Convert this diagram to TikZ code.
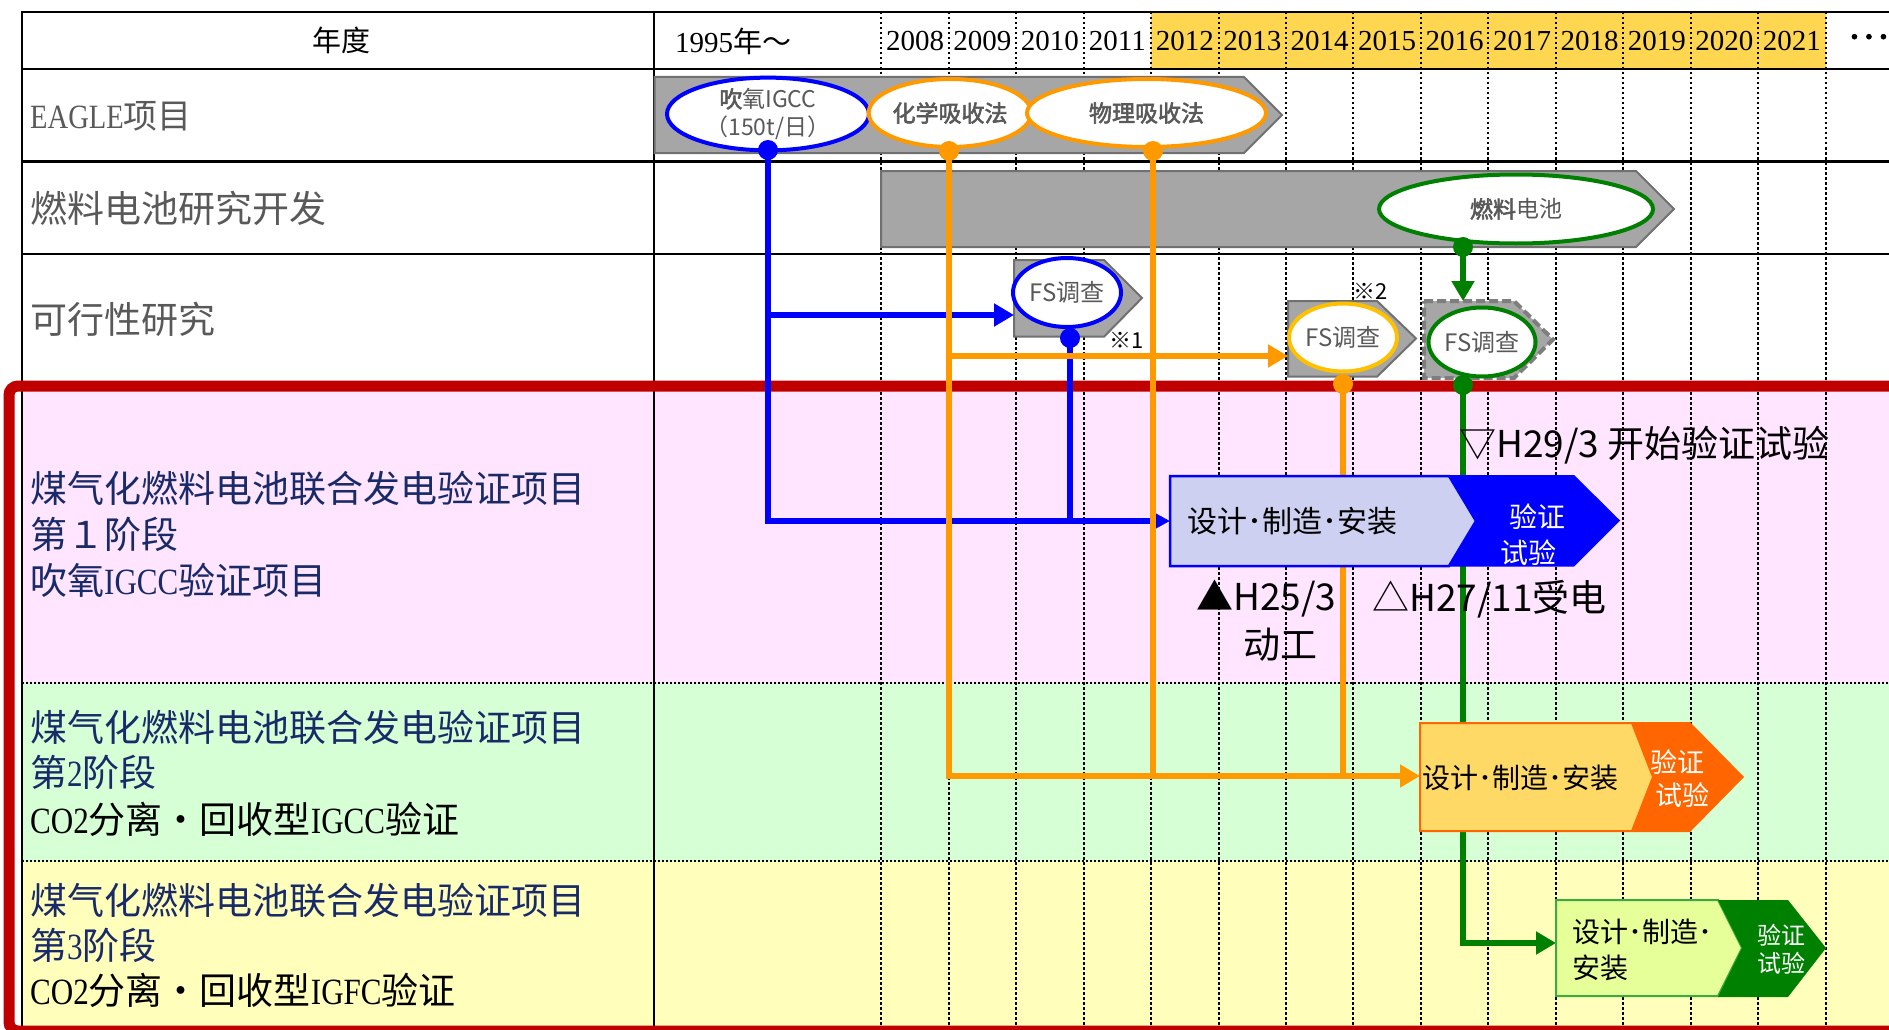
\documentclass[tikz,border=0pt]{standalone}
\usepackage{fontspec}
\setmainfont{Liberation Serif}
\newfontfamily\cjk{Noto Sans CJK SC}
\newfontfamily\cjkbf{Noto Sans CJK SC}[FakeBold=2.5]
\newfontfamily\latn{Liberation Serif}[FakeStretch=0.84]
\usetikzlibrary{shapes.geometric,arrows.meta}
\definecolor{hdryel}{RGB}{255,214,79}
\definecolor{rowpink}{RGB}{255,229,255}
\definecolor{rowgreen}{RGB}{214,255,214}
\definecolor{rowyel}{RGB}{255,255,187}
\definecolor{redframe}{RGB}{192,0,0}
\definecolor{navy}{RGB}{25,42,105}
\definecolor{txtgray}{RGB}{89,89,89}
\definecolor{barfill}{RGB}{166,166,166}
\definecolor{barline}{RGB}{112,112,112}
\definecolor{cblue}{RGB}{0,0,255}
\definecolor{corange}{RGB}{255,153,0}
\definecolor{cfsorange}{RGB}{255,192,0}
\definecolor{cgreen}{RGB}{0,128,0}
\definecolor{lav}{RGB}{205,208,240}
\definecolor{lorange}{RGB}{255,217,102}
\definecolor{dorange}{RGB}{255,102,0}
\definecolor{lgreen}{RGB}{230,255,153}
\definecolor{mgreen}{RGB}{60,170,60}
\begin{document}
\begin{tikzpicture}[x=1pt,y=-1pt,
  yrline/.style={black,line width=2pt,dash pattern=on 2.5pt off 2.5pt},
  rowsep/.style={black,line width=2pt,dash pattern=on 2pt off 2pt},
  tline/.style={black,line width=2.2pt},
  grayshape/.style={fill=barfill,draw=barline,line width=2pt,line join=miter},
  ell/.style={ellipse,fill=white,line width=4pt,inner sep=0pt,align=center,text=txtgray,
    font=\cjk\fontsize{23}{28}\selectfont},
  fstxt/.style={ell,font=\cjk\fontsize{24}{28}\selectfont},
  conn/.style={line width=6pt},
  headbig/.style={-{Triangle[length=20pt,width=22pt]}},
  headsmall/.style={-{Triangle[length=16pt,width=16pt]}},
  hdr/.style={inner sep=0pt,anchor=center,font=\fontsize{29}{34}\selectfont},
  lbl/.style={inner sep=0pt,anchor=west,font=\fontsize{37}{42}\selectfont},
  anno/.style={inner sep=0pt,font=\cjk\fontsize{37}{42}\selectfont},
  boxtxt/.style={inner sep=0pt,font=\cjk\fontsize{30}{36}\selectfont},
  wtxt/.style={inner sep=0pt,text=white,font=\cjk\fontsize{28}{32}\selectfont}]
\clip (0,0) rectangle (1889,1030);
\fill[white] (0,0) rectangle (1889,1030);
% row fills
\fill[hdryel] (1151,12) rectangle (1826,68.7);
\fill[rowpink] (21.7,386) rectangle (1889,683);
\fill[rowgreen] (21.7,683) rectangle (1889,861);
\fill[rowyel] (21.7,861) rectangle (1889,1030);
% dotted year lines
\foreach \k in {0,...,14} \draw[yrline] ({881.3+67.45*\k},12) -- ({881.3+67.45*\k},1030);
\draw[rowsep] (21.7,683) -- (1889,683);
\draw[rowsep] (21.7,861) -- (1889,861);
% solid table lines
\foreach \yy in {12,68.7,161.4,254.2} \draw[tline] (21.7,\yy) -- (1889,\yy);
\draw[tline] (21.7,11) -- (21.7,1030);
\draw[tline] (654,11) -- (654,1030);
% red frame
\draw[redframe,line width=11pt,rounded corners=9pt] (9,386) rectangle (1910,1031);
% header texts
\node[hdr] (hyear) at (341,40) {\cjk 年度};
\node[hdr] (h1995) at (733,41) {1995{\cjk 年～}};
\foreach \k in {0,...,13} {
  \pgfmathtruncatemacro\yr{2008+\k}
  \node[hdr] (y\k) at ({881.3+67.45*(\k+0.5)},41) {\yr};
}
\node[hdr,anchor=west] (hdots) at (1847,41) {\cjkbf ･･･};
% left labels
\node[lbl,text=txtgray,font=\fontsize{34}{40}\selectfont] (lEagle) at (30,116) {{\latn EAGLE}{\cjk 项目}};
\node[lbl,text=txtgray] (lFC) at (30,208) {\cjk 燃料电池研究开发};
\node[lbl,text=txtgray] (lFS) at (30,319) {\cjk 可行性研究};
\node[lbl,text=navy] (p1a) at (30,488) {\cjk 煤气化燃料电池联合发电验证项目};
\node[lbl,text=navy] (p1b) at (30,534) {\cjk 第１阶段};
\node[lbl,text=navy] (p1c) at (30,580) {{\cjk 吹氧}{\latn IGCC}{\cjk 验证项目}};
\node[lbl,text=navy] (p2a) at (30,727.5) {\cjk 煤气化燃料电池联合发电验证项目};
\node[lbl,text=navy] (p2b) at (30,772.4) {{\cjk 第}{\latn 2}{\cjk 阶段}};
\node[lbl,text=black] (p2c) at (30,819.4) {{\latn CO2}{\cjk 分离・回收型}{\latn IGCC}{\cjk 验证}};
\node[lbl,text=navy] (p3a) at (30,900.6) {\cjk 煤气化燃料电池联合发电验证项目};
\node[lbl,text=navy] (p3b) at (30,945.5) {{\cjk 第}{\latn 3}{\cjk 阶段}};
\node[lbl,text=black] (p3c) at (30,990.4) {{\latn CO2}{\cjk 分离・回收型}{\latn IGFC}{\cjk 验证}};
% gray arrows
\draw[grayshape] (654.5,77) -- (1244,77) -- (1282,115) -- (1244,153) -- (654.5,153) -- cycle;
\draw[grayshape] (881,171) -- (1636,171) -- (1674,209) -- (1636,247) -- (881,247) -- cycle;
\draw[grayshape] (1014,260) -- (1104,260) -- (1142,298) -- (1104,336.7) -- (1014,336.7) -- cycle;
\draw[grayshape] (1288,301) -- (1377,301) -- (1416,338.5) -- (1377,376.7) -- (1288,376.7) -- cycle;
\draw[grayshape,line width=4pt,draw=barline!90,dash pattern=on 9pt off 4pt] (1424,301) -- (1514,301) -- (1553,339.5) -- (1514,378) -- (1424,378) -- cycle;
% ellipses
\node[ell,draw=cblue,minimum width=202pt,minimum height=68pt] (eIGCC) at (768,114)
  {{\cjkbf 吹}氧IGCC\\（150t/日）};
\node[ell,draw=corange,minimum width=145pt,minimum height=68pt] (eChem) at (950,113) {\cjkbf 化学吸收法};
\node[ell,draw=corange,minimum width=239pt,minimum height=68pt] (ePhys) at (1146.5,113) {\cjkbf 物理吸收法};
\node[ell,draw=cgreen,minimum width=274pt,minimum height=69pt] (eFC) at (1516,209) {{\cjkbf 燃料}电池};
\node[fstxt,draw=cblue,minimum width=108pt,minimum height=69pt] (eFS1) at (1067,292.5) {FS调查};
\node[fstxt,draw=cfsorange,minimum width=108pt,minimum height=68pt] (eFS2) at (1343,337.5) {FS调查};
\node[fstxt,draw=cgreen,minimum width=107pt,minimum height=69pt] (eFS3) at (1482,342) {FS调查};
% connector points
\coordinate (dIGCC) at (768,150);
\coordinate (dChem) at (949,151);
\coordinate (dPhys) at (1153,151);
\coordinate (dFS1) at (1070,338);
\coordinate (dFS2) at (1343,384);
\coordinate (dFC) at (1463,247);
\coordinate (dFS3) at (1463,385);
\coordinate (fs1in) at (1014,315);
\coordinate (fs2in) at (1288,356);
\coordinate (fs3in) at (1463,301);
\coordinate (st1in) at (1170,521);
\coordinate (st2in) at (1420,776);
\coordinate (st3in) at (1556,943);
% blue connectors
\draw[conn,cblue,headsmall] (dIGCC) |- (st1in);
\draw[conn,cblue,headbig] (dIGCC |- fs1in) -- (fs1in);
\draw[conn,cblue] (dFS1) -- (dFS1 |- st1in);
% orange connectors
\draw[conn,corange,headbig] (dChem) |- (st2in);
\draw[conn,corange,headbig] (dChem |- fs2in) -- (fs2in);
\draw[conn,corange] (dPhys) -- (dPhys |- st2in);
\draw[conn,corange] (dFS2) -- (dFS2 |- st2in);
% green connectors
\draw[conn,cgreen,headbig] (dFC) -- (fs3in);
\draw[conn,cgreen,headbig] (dFS3) |- (st3in);
% dots
\fill[cblue] (dIGCC) circle (10pt);
\fill[corange] (dChem) circle (10pt);
\fill[corange] (dPhys) circle (10pt);
\fill[cblue] (dFS1) circle (10pt);
\fill[corange] (dFS2) circle (10pt);
\fill[cgreen] (dFC) circle (10pt);
\fill[cgreen] (dFS3) circle (10pt);
% stage 1 box
\draw[fill=lav,draw=cblue,line width=2.5pt] (1170,476) -- (1449,476) -- (1476,521) -- (1449,566) -- (1170,566) -- cycle;
\fill[cblue] (1448,475) -- (1574,475) -- (1620,520.5) -- (1574,566.5) -- (1448,566.5) -- (1476,520.5) -- cycle;
\node[boxtxt] (s1t) at (1292,521) {设计･制造･安装};
\node[wtxt] (s1v) at (1537,517) {验证};
\node[wtxt] (s1w) at (1528,553) {试验};
% stage 2 box
\draw[fill=lorange,draw=dorange,line width=2pt] (1420,723) -- (1632,723) -- (1653,777) -- (1632,831) -- (1420,831) -- cycle;
\fill[dorange] (1632,722) -- (1690,722) -- (1744,777) -- (1690,832) -- (1632,832) -- (1653,777) -- cycle;
\node[boxtxt,font=\cjk\fontsize{28}{34}\selectfont] (s2t) at (1520,778) {设计･制造･安装};
\node[wtxt,font=\cjk\fontsize{27}{32}\selectfont] (s2v) at (1677,762) {验证};
\node[wtxt,font=\cjk\fontsize{27}{32}\selectfont] (s2w) at (1682,795) {试验};
% stage 3 box
\draw[fill=lgreen,draw=mgreen,line width=2pt] (1556,900) -- (1718,900) -- (1742,948) -- (1718,996) -- (1556,996) -- cycle;
\fill[cgreen] (1718,900) -- (1788,900) -- (1826,948) -- (1788,997) -- (1718,997) -- (1742,948) -- cycle;
\node[boxtxt,anchor=west,font=\cjk\fontsize{28}{34}\selectfont] (s3t) at (1572,932) {设计･制造･};
\node[boxtxt,anchor=west,font=\cjk\fontsize{28}{34}\selectfont] (s3u) at (1572,968) {安装};
\node[wtxt,font=\cjk\fontsize{24}{28}\selectfont] (s3v) at (1781,935) {验证};
\node[wtxt,font=\cjk\fontsize{24}{28}\selectfont] (s3w) at (1781,963) {试验};
% annotations
\node[anno,anchor=west] (a29) at (1459,445) {▽H29/3 开始验证试验};
\node[anno,anchor=west] (a25) at (1196,599) {▲H25/3};
\node[anno] (a25b) at (1280,645) {动工};
\node[anno,anchor=west] (a27) at (1372,599) {△H27/11受电};
\node[anno,font=\cjk\fontsize{22}{26}\selectfont] (n1) at (1127,340) {※1};
\node[anno,font=\cjk\fontsize{22}{26}\selectfont] (n2) at (1371,291) {※2};
\end{tikzpicture}
\end{document}
